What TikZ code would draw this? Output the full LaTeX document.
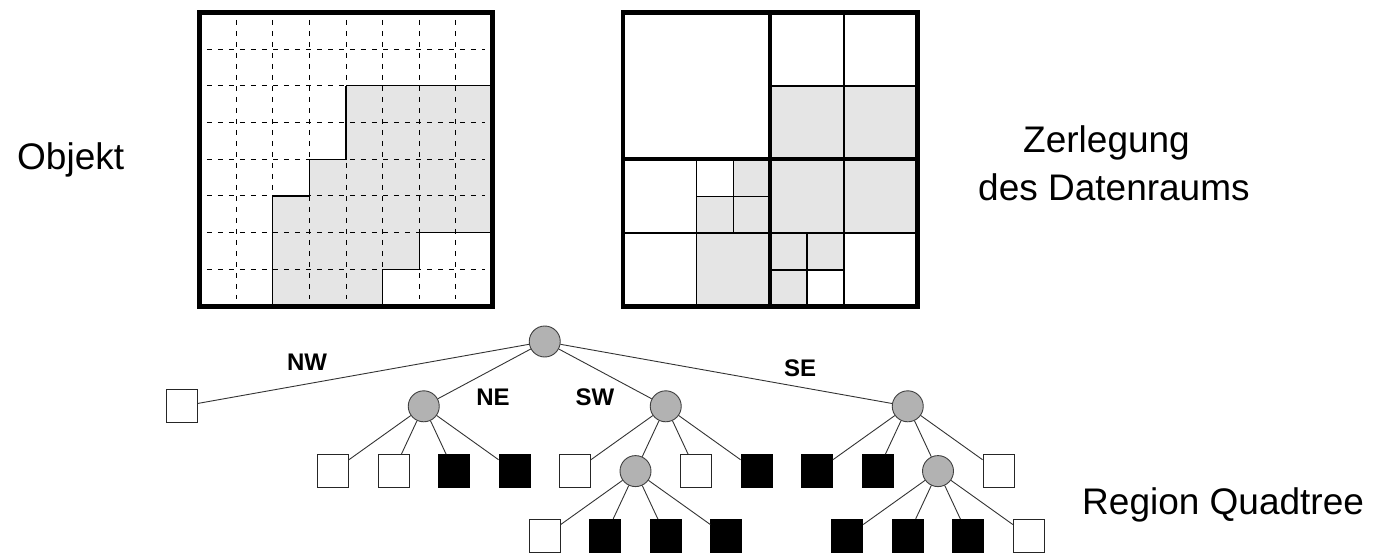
\documentclass[tikz,border=0pt]{standalone}
\usepackage{fontspec}
\setmainfont{Liberation Sans}
\begin{document}
\begin{tikzpicture}[x=1pt,y=-1pt,
  qnode/.style={circle,fill=gray!60,draw=black!75,line width=0.9pt,minimum size=31pt,inner sep=0pt},
  wleaf/.style={rectangle,draw=black!85,fill=white,line width=0.9pt,minimum width=31pt,minimum height=33pt,inner sep=0pt},
  bleaf/.style={wleaf,fill=black,draw=black},
  edge/.style={draw=black!80,line width=0.9pt},
  lbl/.style={font=\bfseries\fontsize{24}{28}\selectfont,inner sep=0pt},
  big/.style={font=\fontsize{37}{44}\selectfont,inner sep=0pt},
  cellfill/.style={fill=black!10},
  gridline/.style={line width=1pt,dash pattern=on 5pt off 6pt},
  thinline/.style={line width=1.6pt},
  midline/.style={line width=4pt},
  frameline/.style={line width=4.8pt}]
\useasboundingbox (0,0) rectangle (1378,553);

% ---------- left grid (Objekt) ----------
\begin{scope}[shift={(199.5pt,-12.5pt)},x=36.625pt,y=-36.7pt]
  \fill[cellfill] (4,2) -- (8,2) -- (8,6) -- (6,6) -- (6,7) -- (5,7) -- (5,8) -- (2,8) -- (2,5) -- (3,5) -- (3,4) -- (4,4) -- cycle;
  \foreach \i in {1,...,7} {
    \draw[gridline] (\i,0.2) -- (\i,7.8);
    \draw[gridline] (0.2,\i) -- (7.8,\i);
  }
  \draw[line width=1.2pt] (4,2) -- (8,2);
  \draw[line width=1.2pt] (8,6) -- (6,6) -- (6,7) -- (5,7) -- (5,8);
  \draw[line width=1.2pt] (2,8) -- (2,5) -- (3,5) -- (3,4) -- (4,4) -- (4,2);
  \draw[frameline] (0,0) rectangle (8,8);
\end{scope}

% ---------- right grid (Zerlegung) ----------
\begin{scope}[shift={(623pt,-12.3pt)},x=36.8pt,y=-36.8pt]
  \fill[cellfill] (4,2) rectangle (8,4);
  \fill[cellfill] (3,4) rectangle (4,5);
  \fill[cellfill] (2,5) rectangle (4,6);
  \fill[cellfill] (2,6) rectangle (4,8);
  \fill[cellfill] (4,4) rectangle (8,6);
  \fill[cellfill] (4,6) rectangle (6,7);
  \fill[cellfill] (4,7) rectangle (5,8);
  \draw[thinline] (2,4) -- (2,8) (6,0) -- (6,8) (4,2) -- (8,2) (0,6) -- (8,6);
  \draw[line width=1.4pt] (3,4) -- (3,6) (2,5) -- (4,5) (5,6) -- (5,8) (4,7) -- (6,7);
  \draw[midline] (4,0) -- (4,8) (0,4) -- (8,4);
  \draw[frameline] (0,0) rectangle (8,8);
\end{scope}

% ---------- texts ----------
\node[big,anchor=base west] (objekt) at (17,170) {Objekt};
\node[big,anchor=base west] (zer) at (1023,153) {Zerlegung};
\node[big,anchor=base west] (des) at (978,201) {des Datenraums};
\node[big,anchor=base west] (rq) at (1082,514) {Region Quadtree};

% ---------- tree ----------
\node[qnode] (root) at (544.75,341.5) {};
\node[wleaf] (nw) at (181.75,406.3) {};
\node[qnode] (ne) at (423.75,406.3) {};
\node[qnode] (sw) at (665.75,406.3) {};
\node[qnode] (se) at (907.75,406.3) {};

\node[wleaf] (ne1) at (333,471.1) {};
\node[wleaf] (ne2) at (393.5,471.1) {};
\node[bleaf] (ne3) at (454,471.1) {};
\node[bleaf] (ne4) at (514.5,471.1) {};

\node[wleaf] (sw1) at (575,471.1) {};
\node[qnode] (sw2) at (635.5,471.1) {};
\node[wleaf] (sw3) at (696,471.1) {};
\node[bleaf] (sw4) at (756.5,471.1) {};

\node[bleaf] (se1) at (817,471.1) {};
\node[bleaf] (se2) at (877.5,471.1) {};
\node[qnode] (se3) at (938,471.1) {};
\node[wleaf] (se4) at (998.5,471.1) {};

\node[wleaf] (swa) at (544.75,535.9) {};
\node[bleaf] (swb) at (605.25,535.9) {};
\node[bleaf] (swc) at (665.75,535.9) {};
\node[bleaf] (swd) at (726.25,535.9) {};

\node[bleaf] (sea) at (847.25,535.9) {};
\node[bleaf] (seb) at (907.75,535.9) {};
\node[bleaf] (sec) at (968.25,535.9) {};
\node[wleaf] (sed) at (1028.75,535.9) {};

\foreach \c in {nw,ne,sw,se} \draw[edge] (root) -- (\c);
\foreach \c in {ne1,ne2,ne3,ne4} \draw[edge] (ne) -- (\c);
\foreach \c in {sw1,sw2,sw3,sw4} \draw[edge] (sw) -- (\c);
\foreach \c in {se1,se2,se3,se4} \draw[edge] (se) -- (\c);
\foreach \c in {swa,swb,swc,swd} \draw[edge] (sw2) -- (\c);
\foreach \c in {sea,seb,sec,sed} \draw[edge] (se3) -- (\c);

\node[lbl] (lnw) at (307,362) {NW};
\node[lbl] (lne) at (493,397) {NE};
\node[lbl] (lsw) at (595,397) {SW};
\node[lbl] (lse) at (800,368) {SE};
\end{tikzpicture}
\end{document}
